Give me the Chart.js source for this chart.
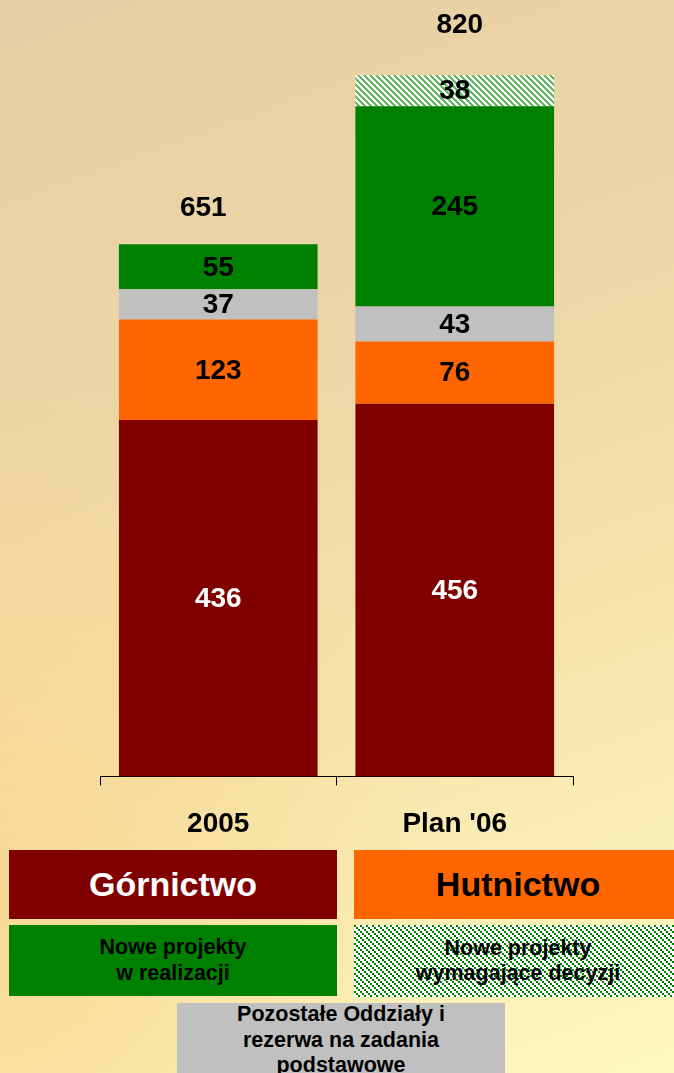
<!DOCTYPE html>
<html>
<head>
    <meta charset="utf-8">
    <title>Górnictwo / Hutnictwo 2005 - Plan '06</title>
    <script src="https://cdn.jsdelivr.net/npm/chart.js"></script>
    <style>
        html, body { margin: 0; padding: 0; }
        body {
            width: 674px;
            height: 1073px;
            overflow: hidden;
            position: relative;
            font-family: Arial, "Liberation Sans", sans-serif;
            font-weight: bold;
            background:
                radial-gradient(ellipse at 0% 85%, rgba(247, 212, 140, 0.7) 0%, rgba(247, 212, 140, 0) 45%),
                linear-gradient(160deg, #E7CFA3 0%, #ECD6A6 35%, #F6E3AA 62%, #FFF8C0 100%);
        }
        #chartBox { position: absolute; left: 0; top: 0; width: 674px; height: 874px; }
        .box {
            position: absolute;
            display: flex;
            align-items: center;
            justify-content: center;
            text-align: center;
        }
        .big { font-size: 34px; }
        .small { font-size: 21.5px; line-height: 25.5px; }
    </style>
</head>
<body>
    <div id="chartBox"><canvas id="chart"></canvas></div>

    <div class="box big" style="left:9px; top:850px; width:328px; height:69px; background:#800000; color:#fff;">Górnictwo</div>
    <div class="box big" style="left:354px; top:850px; width:328px; height:69px; background:#FF6600; color:#000;">Hutnictwo</div>
    <div class="box small" style="left:9px; top:925px; width:328px; height:71px; background:#008000; color:#000;">Nowe projekty<br>w realizacji</div>
    <div class="box small" id="hatchBox" style="left:354px; top:925px; width:328px; height:72px; color:#000;">Nowe projekty<br>wymagające decyzji</div>
    <div class="box small" style="left:177px; top:1003px; width:328px; height:80px; background:#C0C0C0; color:#000; align-items:flex-start;">
        <div style="margin-top:-1px;">Pozostałe Oddziały i<br>rezerwa na zadania<br>podstawowe</div>
    </div>

    <script>
        const categories = ['2005', "Plan '06"];
        const gornictwo = [436, 456];
        const hutnictwo = [123, 76];
        const pozostale = [37, 43];
        const noweRealizacja = [55, 245];
        const noweDecyzja = [null, 38];
        const totals = [651, 820];

        // diagonal "\" hatch tile
        function makeHatch(color, size, test) {
            const c = document.createElement('canvas');
            c.width = size; c.height = size;
            const g = c.getContext('2d');
            g.fillStyle = '#ffffff';
            g.fillRect(0, 0, size, size);
            g.fillStyle = color;
            for (let y = 0; y < size; y++) {
                for (let x = 0; x < size; x++) {
                    if (test(x, y)) g.fillRect(x, y, 1, 1);
                }
            }
            return c;
        }

        const barHatchCanvas = makeHatch('#62B862', 6, (x, y) => (x - y + 6) % 6 < 3);
        const legendHatchCanvas = makeHatch('#008000', 6, (x, y) => {
            const bx = Math.floor(x / 2), by = Math.floor(y / 2);
            return (bx - by + 3) % 3 === 0;
        });
        document.getElementById('hatchBox').style.background =
            'url(' + legendHatchCanvas.toDataURL() + ') repeat';

        const ctx = document.getElementById('chart').getContext('2d');
        const barHatch = ctx.createPattern(barHatchCanvas, 'repeat');

        const labelFont = 'bold 28px Arial, "Liberation Sans", sans-serif';
        const labelColors = ['#ffffff', '#000000', '#000000', '#000000', '#000000'];
        const totalOffsets = [[-15, -36], [5, -50]];

        const valueLabels = {
            id: 'valueLabels',
            afterDatasetsDraw(chart) {
                const c = chart.ctx;
                c.save();
                c.font = labelFont;
                c.textAlign = 'center';
                c.textBaseline = 'middle';
                chart.data.datasets.forEach((ds, i) => {
                    const meta = chart.getDatasetMeta(i);
                    meta.data.forEach((bar, j) => {
                        const v = ds.data[j];
                        if (!v) return;
                        c.fillStyle = labelColors[i];
                        c.fillText(v, bar.x, (bar.y + bar.base) / 2 + 1);
                    });
                });
                // totals above the stacks
                const yScale = chart.scales.y;
                const xScale = chart.scales.x;
                c.fillStyle = '#000000';
                totals.forEach((t, j) => {
                    let sum = 0;
                    chart.data.datasets.forEach(ds => { sum += ds.data[j] || 0; });
                    const x = xScale.getPixelForValue(j) + totalOffsets[j][0];
                    const y = yScale.getPixelForValue(sum) + totalOffsets[j][1];
                    c.fillText(t, x, y);
                });
                c.restore();
            }
        };

        new Chart(ctx, {
            type: 'bar',
            data: {
                labels: categories,
                datasets: [
                    { label: 'Górnictwo', data: gornictwo, backgroundColor: '#800000' },
                    { label: 'Hutnictwo', data: hutnictwo, backgroundColor: '#FF6600' },
                    { label: 'Pozostałe Oddziały i rezerwa na zadania podstawowe', data: pozostale, backgroundColor: '#C0C0C0' },
                    { label: 'Nowe projekty w realizacji', data: noweRealizacja, backgroundColor: '#008000' },
                    { label: 'Nowe projekty wymagające decyzji', data: noweDecyzja, backgroundColor: barHatch }
                ]
            },
            options: {
                responsive: true,
                maintainAspectRatio: false,
                animation: false,
                layout: { padding: { left: 100, right: 101, top: 0, bottom: 11 } },
                datasets: {
                    bar: { categoryPercentage: 1.0, barPercentage: 0.84, borderWidth: 0 }
                },
                plugins: {
                    legend: { display: false },
                    tooltip: { enabled: false }
                },
                scales: {
                    x: {
                        stacked: true,
                        grid: {
                            display: true,
                            drawOnChartArea: false,
                            drawTicks: true,
                            tickLength: 9,
                            color: '#000000',
                            offset: true
                        },
                        border: { display: true, color: '#000000', width: 1 },
                        ticks: {
                            color: '#000000',
                            padding: 22,
                            font: { family: 'Arial, "Liberation Sans", sans-serif', size: 28, weight: 'bold' }
                        }
                    },
                    y: {
                        stacked: true,
                        display: false,
                        min: 0,
                        max: 950
                    }
                }
            },
            plugins: [valueLabels]
        });
    </script>
</body>
</html>
